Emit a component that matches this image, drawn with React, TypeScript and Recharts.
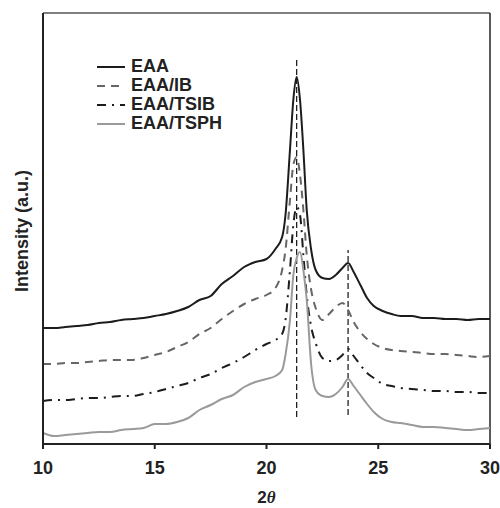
import React from 'react';
import { LineChart, Line, XAxis, YAxis, ReferenceLine } from 'recharts';

// 2-theta positions (deg)
const thetas = [
  10, 10.5, 11, 11.5, 12, 12.5, 13, 13.5, 14, 14.5, 15, 15.5, 16, 16.5, 17, 17.5, 18, 18.5, 19, 19.5, 20,
  20.4, 20.7, 20.85, 21.05, 21.2, 21.35, 21.5, 21.65, 21.8, 22.0, 22.2,
  22.5, 22.8, 23.1, 23.4, 23.65, 23.9, 24.2, 24.5, 24.8, 25.2,
  25.6, 26, 26.5, 27, 27.5, 28, 28.5, 29, 29.5, 30,
];

// intensity (a.u., offset traces)
const eaa = [
  116, 116, 117, 118, 119, 121, 122, 124, 125, 126, 128, 130, 133, 137, 144, 148, 160, 168, 177, 182, 185,
  195, 207, 229, 294, 344, 367, 344, 294, 234, 194, 174,
  166, 165, 169, 176, 181, 172, 159, 146, 138, 133,
  130, 128, 128, 126, 126, 125, 125, 124, 125, 125,
];
const eaaIb = [
  80, 80, 81, 81, 82, 83, 84, 84, 84, 86, 89, 92, 97, 102, 110, 116, 125, 133, 140, 145, 149,
  156, 174, 194, 244, 279, 287, 269, 234, 189, 154, 136,
  124, 130, 137, 141, 134, 122, 112, 105, 100, 96,
  94, 93, 92, 91, 90, 90, 89, 88, 87, 88,
];
const eaaTsib = [
  43, 44, 44, 45, 46, 46, 47, 48, 48, 50, 52, 55, 58, 61, 66, 70, 76, 81, 87, 94, 100,
  104, 110, 124, 174, 219, 237, 229, 189, 149, 117, 101,
  86, 83, 84, 89, 95, 88, 79, 71, 66, 60,
  58, 56, 55, 54, 53, 53, 52, 52, 51, 51,
];
const eaaTsph = [
  11, 8, 9, 10, 11, 12, 12, 14, 15, 16, 20, 20, 22, 26, 34, 39, 45, 49, 57, 62, 65,
  68, 74, 89, 124, 169, 186, 192, 174, 144, 79, 54,
  48, 47, 50, 57, 65, 58, 49, 40, 32, 25,
  22, 21, 19, 17, 17, 16, 15, 14, 15, 16,
];

const xTicks = [10, 15, 20, 25, 30];
// dashed marker lines: [theta, from, to]
const peakMarks: [number, number, number][] = [
  [21.35, 27, 386],
  [23.65, 29, 194],
];

const series = [
  { key: 'eaa', name: 'EAA', color: '#1c1c1c', dash: undefined as string | undefined },
  { key: 'eaaIb', name: 'EAA/IB', color: '#666666', dash: '8 6' },
  { key: 'eaaTsib', name: 'EAA/TSIB', color: '#1c1c1c', dash: '9 6 2 6' },
  { key: 'eaaTsph', name: 'EAA/TSPH', color: '#9a9a9a', dash: undefined },
];

const rows = thetas.map((t, i) => ({
  theta: t,
  eaa: eaa[i],
  eaaIb: eaaIb[i],
  eaaTsib: eaaTsib[i],
  eaaTsph: eaaTsph[i],
}));

const FONT = '"Liberation Sans", Arial, sans-serif';

const XLabel = (props: any) => {
  const vb = props.viewBox || { x: 43, width: 447 };
  return (
    <text x={vb.x + vb.width / 2} y={503} textAnchor="middle" fontFamily={FONT} fontWeight="bold" fontSize={17} fill="#222">
      <tspan>2</tspan>
      <tspan fontFamily='"Liberation Serif", serif' fontStyle="italic">θ</tspan>
    </text>
  );
};

const YLabel = () => (
  <text
    x={22}
    y={231}
    transform="rotate(-90, 22, 231)"
    textAnchor="middle"
    dominantBaseline="central"
    fontFamily={FONT}
    fontWeight="bold"
    fontSize={18}
    fill="#222"
  >
    Intensity (a.u.)
  </text>
);

export default function App() {
  return (
    <div style={{ position: 'absolute', left: 0, top: 0, width: 500, height: 508, background: '#fff' }}>
      <LineChart width={500} height={508} data={rows} margin={{ top: 13, right: 10, bottom: 4, left: 0 }}>
        <XAxis
          dataKey="theta"
          type="number"
          domain={[10, 30]}
          ticks={xTicks}
          tickSize={5}
          tickMargin={12}
          height={60}
          stroke="#222"
          strokeWidth={2}
          tick={{ fill: '#222', fontSize: 18, fontWeight: 'bold', fontFamily: FONT }}
          label={<XLabel />}
        />
        <YAxis
          type="number"
          domain={[0, 431]}
          allowDataOverflow
          tick={false}
          tickLine={false}
          width={43}
          stroke="#222"
          strokeWidth={2}
          label={<YLabel />}
        />
        <ReferenceLine y={431} stroke="#555" strokeWidth={1.5} />
        <ReferenceLine x={30} stroke="#222" strokeWidth={1.5} />
        {peakMarks.map(([t, a, b]) => (
          <ReferenceLine
            key={t}
            segment={[{ x: t, y: a }, { x: t, y: b }]}
            stroke="#111"
            strokeWidth={1.2}
            strokeDasharray="6 3"
          />
        ))}
        {series.map((s) => (
          <Line
            key={s.key}
            dataKey={s.key}
            name={s.name}
            type="monotone"
            stroke={s.color}
            strokeWidth={2}
            strokeDasharray={s.dash}
            dot={false}
            isAnimationActive={false}
          />
        ))}
      </LineChart>
      <div style={{ position: 'absolute', left: 97, top: 57, fontFamily: FONT, fontWeight: 'bold', fontSize: 18, color: '#222' }}>
        {series.map((s) => (
          <div key={s.key} style={{ display: 'flex', alignItems: 'center', height: 19, lineHeight: '19px' }}>
            <svg width={30} height={6} style={{ marginRight: 4 }}>
              <line x1={0} y1={3} x2={28} y2={3} stroke={s.color} strokeWidth={2} strokeDasharray={s.dash} />
            </svg>
            <span>{s.name}</span>
          </div>
        ))}
      </div>
    </div>
  );
}
